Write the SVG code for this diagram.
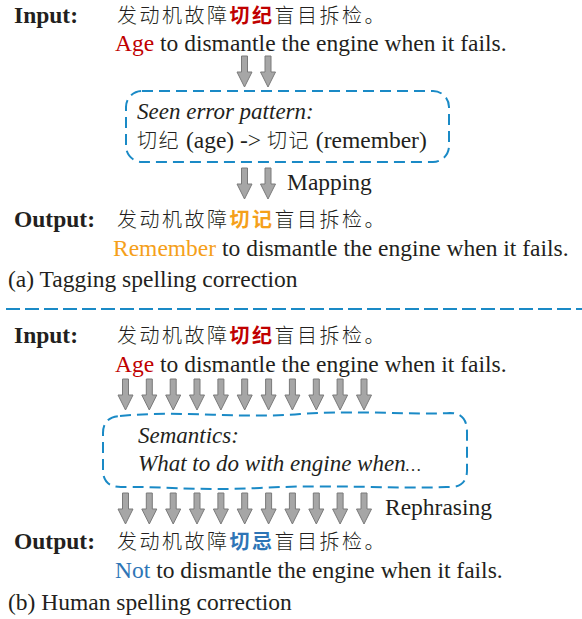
<svg xmlns="http://www.w3.org/2000/svg" width="582" height="619" viewBox="0 0 582 619">
<style>
.lbl{font-family:"Liberation Serif","Times New Roman",serif;font-size:23.5px;font-weight:bold;fill:#231f20}
.en{font-family:"Liberation Serif","Times New Roman",serif;font-size:23.5px;fill:#231f20}
.it{font-family:"Liberation Serif","Times New Roman",serif;font-size:23px;font-style:italic;fill:#231f20}
.zh{font-family:"Noto Sans CJK SC",sans-serif;font-size:20px;letter-spacing:2.5px;fill:#231f20;font-weight:300}
.zhs{font-family:"Liberation Serif","Noto Sans CJK SC",serif;font-size:23.5px;fill:#231f20}
.zhi{font-family:"Noto Sans CJK SC",sans-serif;font-size:20px;font-weight:300;letter-spacing:1.5px}
.red{fill:#c00000}
.org{fill:#f5a01a}
.blu{fill:#2e75b6}
.b{font-weight:bold}
.box{fill:none;stroke:#1a8ac6;stroke-width:2;stroke-dasharray:11 6}
.arw{fill:#a6a6a6;stroke:#7a7a7a;stroke-width:1}
</style>
<defs>
<path id="arrow" class="arw" d="M-3,0 L3,0 L3,16 L7.5,16 L0,31 L-7.5,16 L-3,16 Z"/>
</defs>

<g id="section-a">
  <g id="a-input">
    <text class="lbl" x="14" y="23">Input:</text>
    <text class="zh" x="117" y="23">发动机故障<tspan class="red b">切纪</tspan>盲目拆检。</text>
    <text class="en" x="115" y="51"><tspan class="red">Age</tspan> to dismantle the engine when it fails.</text>
  </g>
  <g id="a-pattern">
    <rect class="box" x="126" y="91" width="323" height="71" rx="16"/>
    <text class="it" x="137" y="119">Seen error pattern:</text>
    <text class="zhs" x="137" y="148"><tspan class="zhi">切纪</tspan> (age) -&gt; <tspan class="zhi">切记</tspan> (remember)</text>
  </g>
  <g id="a-output">
    <text class="lbl" x="14" y="227">Output:</text>
    <text class="zh" x="117" y="227">发动机故障<tspan class="org b">切记</tspan>盲目拆检。</text>
    <text class="en" x="113" y="256"><tspan class="org">Remember</tspan> to dismantle the engine when it fails.</text>
  </g>
  <text class="en" x="8" y="287">(a) Tagging spelling correction</text>
</g>

<g id="connectors">
  <use href="#arrow" x="244.5" y="56"/>
  <use href="#arrow" x="268" y="56"/>
  <use href="#arrow" x="244.5" y="168"/>
  <use href="#arrow" x="268" y="168"/>
  <text class="en" x="287" y="190">Mapping</text>
  <g id="b-arrows-top">
    <use href="#arrow" x="125.5" y="379"/>
    <use href="#arrow" x="149.3" y="379"/>
    <use href="#arrow" x="173.2" y="379"/>
    <use href="#arrow" x="197" y="379"/>
    <use href="#arrow" x="220.9" y="379"/>
    <use href="#arrow" x="244.7" y="379"/>
    <use href="#arrow" x="268.6" y="379"/>
    <use href="#arrow" x="292.4" y="379"/>
    <use href="#arrow" x="316.3" y="379"/>
    <use href="#arrow" x="340.1" y="379"/>
    <use href="#arrow" x="364" y="379"/>
  </g>
  <g id="b-arrows-bottom">
    <use href="#arrow" x="125.5" y="493"/>
    <use href="#arrow" x="149.3" y="493"/>
    <use href="#arrow" x="173.2" y="493"/>
    <use href="#arrow" x="197" y="493"/>
    <use href="#arrow" x="220.9" y="493"/>
    <use href="#arrow" x="244.7" y="493"/>
    <use href="#arrow" x="268.6" y="493"/>
    <use href="#arrow" x="292.4" y="493"/>
    <use href="#arrow" x="316.3" y="493"/>
    <use href="#arrow" x="340.1" y="493"/>
    <use href="#arrow" x="364" y="493"/>
  </g>
  <text class="en" x="385" y="515">Rephrasing</text>
</g>

<line id="separator" x1="6" y1="309" x2="582" y2="309" stroke="#1a8ac6" stroke-width="2" stroke-dasharray="14 5"/>

<g id="section-b">
  <g id="b-input">
    <text class="lbl" x="14" y="343">Input:</text>
    <text class="zh" x="117" y="343">发动机故障<tspan class="red b">切纪</tspan>盲目拆检。</text>
    <text class="en" x="115" y="372"><tspan class="red">Age</tspan> to dismantle the engine when it fails.</text>
  </g>
  <g id="b-semantics">
    <path class="box" d="M120,416 C180,410 240,419 300,414 C360,410 410,415 450,413 Q467,413 467,432 L467,470 Q467,487 450,487 C390,489 330,484 260,488 C200,491 150,486 121,487 Q103,487 103,470 L103,433 Q103,417 120,416 Z"/>
    <text class="it" x="138" y="443">Semantics:</text>
    <text class="it" x="138" y="471">What to do with engine when<tspan font-size="17">…</tspan></text>
  </g>
  <g id="b-output">
    <text class="lbl" x="14" y="549">Output:</text>
    <text class="zh" x="117" y="549">发动机故障<tspan class="blu b">切忌</tspan>盲目拆检。</text>
    <text class="en" x="115" y="578"><tspan class="blu">Not</tspan> to dismantle the engine when it fails.</text>
  </g>
  <text class="en" x="8" y="610">(b) Human spelling correction</text>
</g>
</svg>
